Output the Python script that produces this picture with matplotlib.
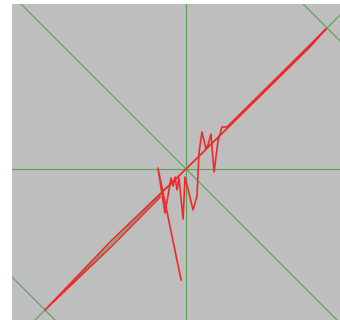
import matplotlib
matplotlib.use("Agg")
import matplotlib.pyplot as plt

# Path of the red trace (data units, centre at 0,0)
trace_x = [-0.184, -0.525, -1.0, -0.539, 0.0, 0.879, 0.993, 0.291, 0.255, 0.227,
           0.199, 0.177, 0.156, 0.142, 0.113, 0.092, 0.078, 0.050, -0.007, -0.021,
           -0.050, -0.064, -0.078, -0.092, -0.106, -0.149, -0.199, -0.035]
trace_y = [-0.199, -0.546, -1.0, -0.518, 0.0, 0.865, 0.993, 0.298, 0.298, 0.199,
           -0.021, 0.248, 0.170, 0.142, 0.262, 0.113, -0.191, -0.291, -0.057, -0.355,
           -0.064, -0.149, -0.057, -0.121, -0.064, -0.312, 0.007, -0.787]

# Reference lines: x + y = c
anti_offsets = [-2, 0, 2]

fig = plt.figure(figsize=(3.4, 3.2), dpi=100)
ax = fig.add_axes([12 / 340, 0, 328 / 340, 316 / 320])
ax.set_facecolor("#bebebe")

green = "#5aa05a"
ax.axhline(0, color=green, lw=0.8)
ax.axvline(0, color=green, lw=0.8)
ax.axline((0, 0), slope=1, color=green, lw=0.8)
for c in anti_offsets:
    ax.axline((0, c), slope=-1, color=green, lw=0.8)

ax.plot(trace_x, trace_y, color="#ee2a2a", lw=1.2)

ax.set_xlim(-1.234, 1.092)
ax.set_ylim(-1.071, 1.170)
ax.set_xticks([])
ax.set_yticks([])
for s in ax.spines.values():
    s.set_visible(False)

fig.savefig("out.png", dpi=100)
